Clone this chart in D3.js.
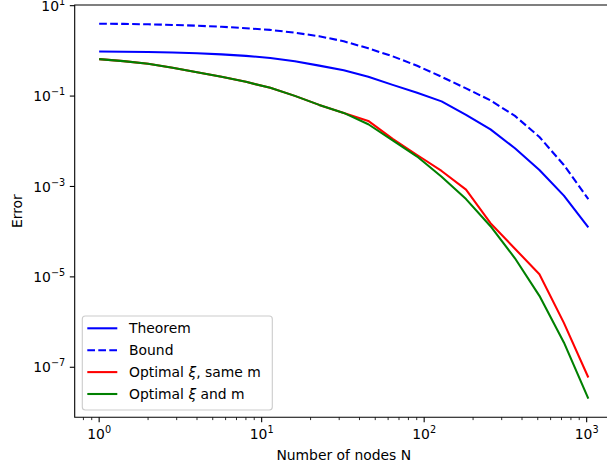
<!DOCTYPE html>
<html>
<head>
<meta charset="utf-8">
<script src="https://cdn.jsdelivr.net/npm/d3@7"></script>
<style>
  body { margin: 0; background: #fff; }
  text { font-family: "DejaVu Sans", sans-serif; }
</style>
</head>
<body>
<svg id="chart" width="607" height="470"></svg>
<script>
// number of nodes N (powers of sqrt 2)
const nodes = [1, 1.41, 2, 2.83, 4, 5.66, 8, 11.3, 16, 22.6, 32, 45.3, 64, 90.5, 128, 181, 256, 362, 512, 724, 1024];

const theorem = [0.970, 0.960, 0.945, 0.921, 0.885, 0.836, 0.775, 0.696, 0.588, 0.472, 0.371, 0.267,
                 0.177, 0.118, 0.0763, 0.0383, 0.0183, 0.0070, 0.00231, 6.28e-4, 1.24e-4];
const bound = [3.99, 3.95, 3.87, 3.75, 3.60, 3.42, 3.17, 2.91, 2.52, 2.11, 1.63, 1.14,
               0.759, 0.467, 0.267, 0.148, 0.0803, 0.0364, 0.01245, 0.00298, 5.26e-4];
const optSameM = [0.658, 0.594, 0.518, 0.422, 0.335, 0.267, 0.2065, 0.152, 0.101, 0.0638, 0.0424, 0.0282,
                  0.01125, 0.00497, 0.00220, 8.53e-4, 1.54e-4, 4.20e-5, 1.14e-5, 9.6e-7, 5.94e-8];
const optBoth = [0.658, 0.594, 0.518, 0.422, 0.335, 0.267, 0.2065, 0.152, 0.101, 0.0638, 0.0424, 0.0238,
                 0.01042, 0.00460, 0.00164, 5.26e-4, 1.32e-4, 2.58e-5, 3.81e-6, 3.55e-7, 2.03e-8];

const xTickExp = [0, 1, 2, 3];
const yTickExp = [1, -1, -3, -5, -7];

const series = [
    {name: "Theorem", values: theorem, color: "blue", dash: null},
    {name: "Bound", values: bound, color: "blue", dash: "7.7,3.3"},
    {name: "Optimal ", sym: "ξ", tail: ", same m", values: optSameM, color: "red", dash: null},
    {name: "Optimal ", sym: "ξ", tail: " and m", values: optBoth, color: "green", dash: null}
];

const svg = d3.select('#chart');
const plot = {left: 74.7, right: 612.8, top: 5, bottom: 417.3};

const xScale = d3.scaleLog()
    .domain([Math.pow(10, -0.1505), Math.pow(10, 3.1608)])
    .range([plot.left, plot.right]);
const yScale = d3.scaleLog()
    .domain([Math.pow(10, -8.107), Math.pow(10, 1.015)])
    .range([plot.bottom, plot.top]);

const minus = "\u2212";
const fs = 13.9;

// lines
const line = d3.line()
    .x((d, i) => xScale(nodes[i]))
    .y(d => yScale(d));

const g = svg.append('g');
series.forEach(s => {
    g.append('path')
        .datum(s.values)
        .attr('d', line)
        .attr('fill', 'none')
        .attr('stroke', s.color)
        .attr('stroke-width', 2.08)
        .attr('stroke-dasharray', s.dash)
        .attr('stroke-linejoin', 'round');
});

// spines
svg.append('path')
    .attr('d', `M${plot.left},${plot.bottom}V${plot.top}H${plot.right}V${plot.bottom}Z`)
    .attr('fill', 'none')
    .attr('stroke', '#000')
    .attr('stroke-width', 1.1);

// x ticks
const xMinor = [];
[-1, 0, 1, 2, 3].forEach(e => {
    for (let m = 2; m <= 9; m++) xMinor.push(m * Math.pow(10, e));
});
const xDom = xScale.domain();
svg.append('g').selectAll('line')
    .data(xMinor.filter(v => v >= xDom[0] && v <= xDom[1]))
    .join('line')
    .attr('x1', d => xScale(d)).attr('x2', d => xScale(d))
    .attr('y1', plot.bottom).attr('y2', plot.bottom + 2.8)
    .attr('stroke', '#000').attr('stroke-width', 0.83);

const xt = svg.append('g').selectAll('g')
    .data(xTickExp)
    .join('g')
    .attr('transform', d => `translate(${xScale(Math.pow(10, d))},${plot.bottom})`);
xt.append('line').attr('y2', 4.9).attr('stroke', '#000').attr('stroke-width', 1.1);
const xl = xt.append('text')
    .attr('y', 22)
    .attr('text-anchor', 'middle')
    .attr('font-size', fs);
xl.append('tspan').text('10');
xl.append('tspan').attr('dy', -6).attr('font-size', 9.7).text(d => (d < 0 ? minus : '') + Math.abs(d));

// y ticks
const yt = svg.append('g').selectAll('g')
    .data(yTickExp)
    .join('g')
    .attr('transform', d => `translate(${plot.left},${yScale(Math.pow(10, d))})`);
yt.append('line').attr('x2', -4.9).attr('stroke', '#000').attr('stroke-width', 1.1);
const yl = yt.append('text')
    .attr('x', -9.5)
    .attr('y', 5.2)
    .attr('text-anchor', 'end')
    .attr('font-size', fs);
yl.append('tspan').text('10');
yl.append('tspan').attr('dy', -6).attr('font-size', 9.7).text(d => (d < 0 ? minus : '') + Math.abs(d));

// axis labels
svg.append('text')
    .attr('x', (plot.left + plot.right) / 2)
    .attr('y', 460)
    .attr('text-anchor', 'middle')
    .attr('font-size', fs)
    .text('Number of nodes N');
svg.append('text')
    .attr('transform', `translate(21.5,${(plot.top + plot.bottom) / 2}) rotate(-90)`)
    .attr('text-anchor', 'middle')
    .attr('font-size', fs)
    .text('Error');

// legend
const leg = svg.append('g');
leg.append('rect')
    .attr('x', 82.3).attr('y', 316)
    .attr('width', 190).attr('height', 94)
    .attr('rx', 3)
    .attr('fill', 'rgba(255,255,255,0.8)')
    .attr('stroke', '#cccccc')
    .attr('stroke-width', 1.1);
const rows = leg.selectAll('g.row')
    .data(series)
    .join('g')
    .attr('class', 'row')
    .attr('transform', (d, i) => `translate(0,${328.3 + i * 21.9})`);
rows.append('line')
    .attr('x1', 87.3).attr('x2', 117.3)
    .attr('stroke', d => d.color)
    .attr('stroke-width', 2.08)
    .attr('stroke-dasharray', d => d.dash);
const lt = rows.append('text')
    .attr('x', 129)
    .attr('y', 5)
    .attr('font-size', fs);
lt.append('tspan').text(d => d.name);
lt.filter(d => d.sym).append('tspan').attr('font-style', 'italic').text(d => d.sym);
lt.filter(d => d.tail).append('tspan').text(d => d.tail);
</script>
</body>
</html>
